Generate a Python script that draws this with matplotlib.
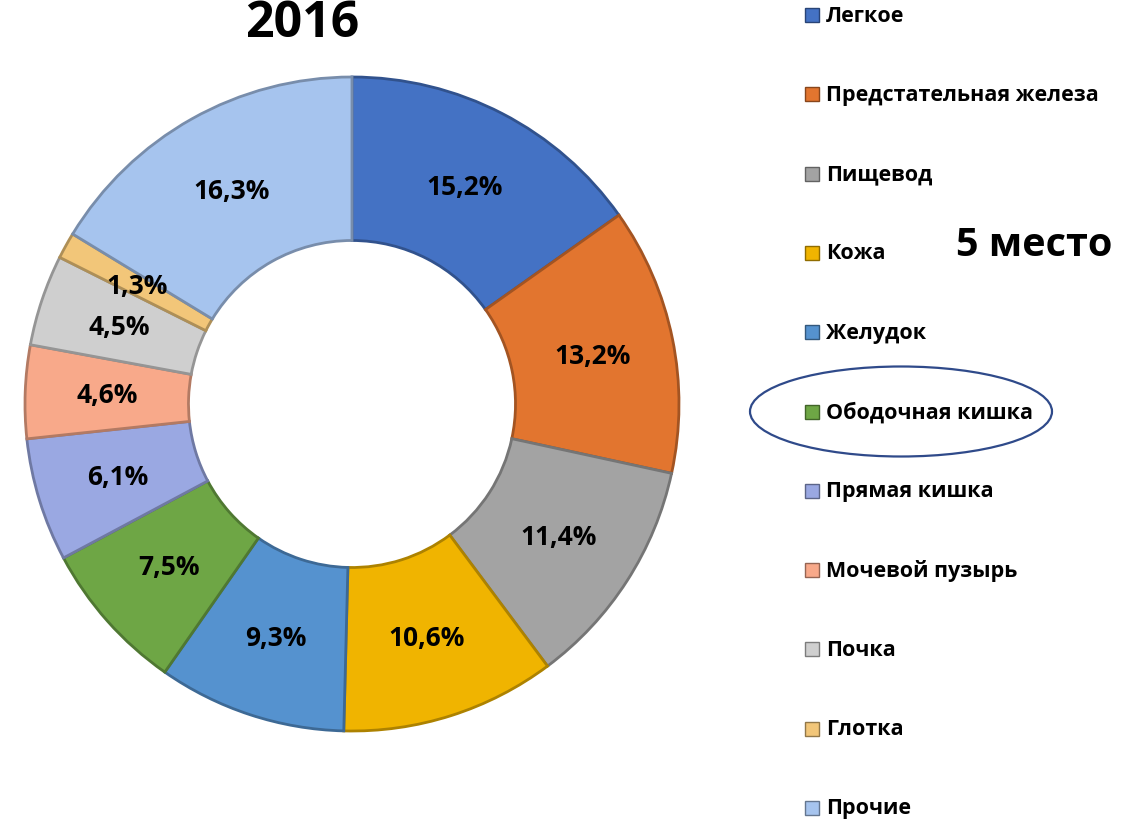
import matplotlib
matplotlib.use("Agg")
import matplotlib.pyplot as plt
from matplotlib.patches import Rectangle, Ellipse
from matplotlib.colors import to_rgb
import numpy as np

categories = ["Легкое", "Предстательная железа", "Пищевод", "Кожа", "Желудок",
              "Ободочная кишка", "Прямая кишка", "Мочевой пузырь", "Почка",
              "Глотка", "Прочие"]
values = [15.2, 13.2, 11.4, 10.6, 9.3, 7.5, 6.1, 4.6, 4.5, 1.3, 16.3]
value_labels = ["15,2%", "13,2%", "11,4%", "10,6%", "9,3%", "7,5%", "6,1%",
                "4,6%", "4,5%", "1,3%", "16,3%"]
colors = ["#4472C4", "#E2752F", "#A3A3A3", "#F0B400", "#5592CF", "#6EA645",
          "#9AA8E2", "#F8A98A", "#CFCFCF", "#F2C679", "#A6C4EE"]
title = "2016"
note = "5 место"
highlight = "Ободочная кишка"

plt.rcParams['font.family'] = ['Open Sans', 'DejaVu Sans']

W, H = 1132, 820
fig = plt.figure(figsize=(W / 100, H / 100), dpi=100)

def darker(c, f=0.7):
    r, g, b = to_rgb(c)
    return (r * f, g * f, b * f)

cx, cy, half = 352, 405, 340
ax = fig.add_axes([(cx - half) / W, (H - cy - half) / H, 2 * half / W, 2 * half / H])
wedges, _ = ax.pie(values, colors=colors, startangle=90, counterclock=False,
                   radius=1.0, wedgeprops=dict(width=0.5, linewidth=2))
for w, c in zip(wedges, colors):
    w.set_edgecolor(darker(c, 0.72))
lim = half / 327
ax.set_xlim(-lim, lim)
ax.set_ylim(-lim, lim)
ax.set_aspect('equal')
ax.axis('off')

cum = np.cumsum([0] + values)
total = sum(values)
for i, lab in enumerate(value_labels):
    mid = (cum[i] + cum[i + 1]) / 2 / total
    ang = np.deg2rad(90 - 360 * mid)
    r = 0.75
    ax.text(r * np.cos(ang), r * np.sin(ang), lab, ha='center', va='center',
            fontsize=19, fontweight='bold', color='black')

fig.text(302 / W, (H - 37) / H, title, ha='center', va='baseline',
         fontsize=36, fontweight='bold')
fig.text(1034 / W, (H - 245) / H, note, ha='center', va='center',
         fontsize=28.5, fontweight='bold')

y0, dy = 16, 79.3
for i, (cat, c) in enumerate(zip(categories, colors)):
    y = y0 + i * dy
    fig.patches.append(Rectangle((805 / W, (H - y - 7) / H), 14 / W, 14 / H,
                                 facecolor=c, edgecolor=darker(c, 0.6), linewidth=1,
                                 transform=fig.transFigure, figure=fig))
    fig.text(826 / W, (H - y) / H, cat, ha='left', va='center',
             fontsize=15.5, fontweight='bold')

idx = categories.index(highlight)
ey = y0 + idx * dy
fig.patches.append(Ellipse((901 / W, (H - ey) / H), 302 / W, 90 / H,
                           facecolor='none', edgecolor='#2F4A8A', linewidth=1.6,
                           transform=fig.transFigure, figure=fig))

fig.savefig("out.png", dpi=100)
